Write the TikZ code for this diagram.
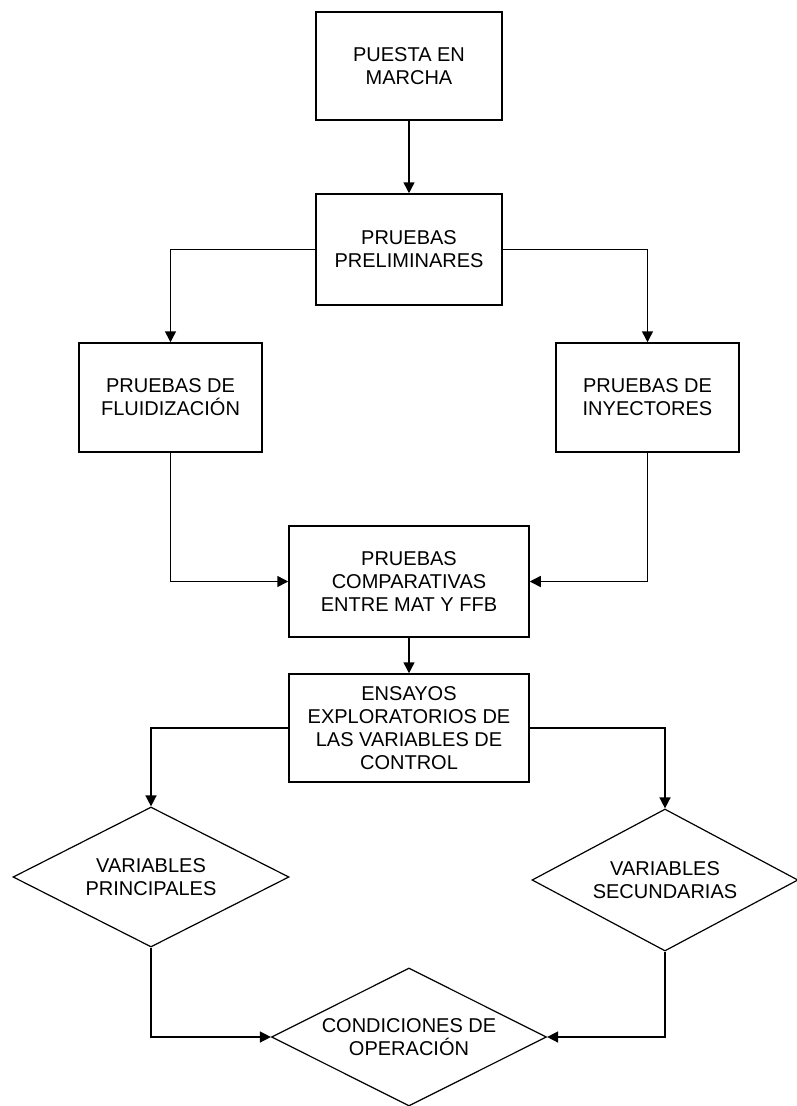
\documentclass[tikz,border=0pt]{standalone}
\usepackage{fontspec}
\setmainfont{Liberation Sans}
\usepackage{tikz}
\usetikzlibrary{arrows.meta,shapes.geometric}

\tikzset{
  caja/.style={draw,line width=1.5pt,align=center,inner sep=0pt,
    font=\fontsize{20}{23}\selectfont},
  rombo/.style={draw,diamond,aspect=2,line width=1.2pt,align=center,inner sep=0pt,
    font=\fontsize{20}{23}\selectfont},
  flecha/.style={line width=1.5pt,-{Triangle[length=11pt,width=11pt]}}
}

\begin{document}
\begin{tikzpicture}[x=1pt,y=-1pt]
  \fill[white] (0,0) rectangle (796,1106);
  \useasboundingbox (0,0) rectangle (796,1106);

  % cajas
  \node[caja,minimum width=186pt,minimum height=108pt] (puesta) at (409,66) {PUESTA EN\\MARCHA};
  \node[caja,minimum width=186pt,minimum height=111pt] (prelim) at (409,249.5) {PRUEBAS\\PRELIMINARES};
  \node[caja,minimum width=183pt,minimum height=109pt] (fluid) at (170.5,397.5) {PRUEBAS DE\\FLUIDIZACIÓN};
  \node[caja,minimum width=183pt,minimum height=109pt] (inyec) at (647.5,397.5) {PRUEBAS DE\\INYECTORES};
  \node[caja,minimum width=240pt,minimum height=111pt] (compar) at (409,581.5) {PRUEBAS\\COMPARATIVAS\\ENTRE MAT Y FFB};
  \node[caja,minimum width=240pt,minimum height=108pt] (ensayos) at (409,728) {ENSAYOS\\EXPLORATORIOS DE\\LAS VARIABLES DE\\CONTROL};

  % rombos
  \node[rombo,minimum width=276pt,minimum height=140pt] (vprin) at (151,877) {VARIABLES\\PRINCIPALES};
  \node[rombo,minimum width=266pt,minimum height=142pt] (vsec) at (665,880) {VARIABLES\\SECUNDARIAS};
  \node[rombo,minimum width=275pt,minimum height=138pt] (cond) at (409,1037) {CONDICIONES DE\\OPERACIÓN};

  % conexiones
  \draw[flecha] (puesta) -- (prelim);
  \draw[flecha] (prelim.west) -| (fluid.north);
  \draw[flecha] (prelim.east) -| (inyec.north);
  \draw[flecha] (fluid.south) |- (compar.west);
  \draw[flecha] (inyec.south) |- (compar.east);
  \draw[flecha] (compar) -- (ensayos);
  \draw[flecha] (ensayos.west) -| (vprin.north);
  \draw[flecha] (ensayos.east) -| (vsec.north);
  \draw[flecha] (vprin.south) |- (cond.west);
  \draw[flecha] (vsec.south) |- (cond.east);
\end{tikzpicture}
\end{document}
